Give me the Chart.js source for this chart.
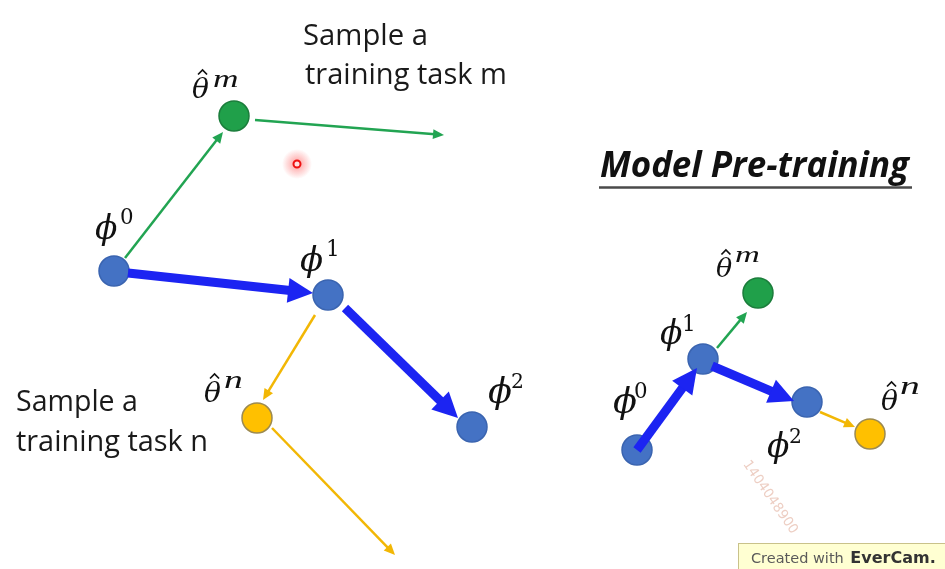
<!DOCTYPE html>
<html>
<head>
<meta charset="utf-8">
<script src="https://cdn.jsdelivr.net/npm/chart.js@4.4.1/dist/chart.umd.min.js"></script>
<style>
  html, body { margin: 0; padding: 0; background: #fff; overflow: hidden; }
  #wrap { width: 945px; height: 569px; position: relative; }
</style>
</head>
<body>
<div id="wrap"><canvas id="diagram"></canvas></div>
<script>
// nodes of the two pictures (picture pixels, y grows downward)
const nodeNames = ['phi0', 'thetaM', 'phi1', 'phi2', 'thetaN', 'phi0 small', 'phi1 small', 'thetaM small', 'phi2 small', 'thetaN small'];
const nodeX = [114, 234, 328, 472, 257, 637, 703, 758, 807, 870];
const nodeY = [271, 116, 295, 427, 418, 450, 359, 293, 402, 434];
const nodeGroup = ['meta', 'taskM', 'meta', 'meta', 'taskN', 'meta', 'meta', 'taskM', 'meta', 'taskN'];

// update arrows: start and tip
const arrowFromX = [125, 255, 128, 345, 315, 272, 637, 717, 712, 820];
const arrowFromY = [258, 120, 273, 308, 315, 428, 450, 348, 366, 412];
const arrowToX = [223, 444, 313, 458, 263, 395, 697, 747, 794, 855];
const arrowToY = [132, 135, 293, 418, 400, 555, 368, 312, 401, 427];
const arrowGroup = ['taskM', 'taskM', 'meta', 'meta', 'taskN', 'taskN', 'meta', 'taskM', 'meta', 'taskN'];

// laser pointer dot
const pointerX = [297];
const pointerY = [164];

const fills = { meta: '#4472c4', taskM: '#20a04a', taskN: '#ffc000' };
const borders = { meta: '#3a64b0', taskM: '#1b7d3b', taskN: '#9c8a50' };
const arrowColors = { meta: '#1c24f2', taskM: '#22a452', taskN: '#f2b705' };
const arrowStyle = {
    meta: { width: 9, head: 25, half: 12.5 },
    taskM: { width: 2.5, head: 11, half: 5 },
    taskN: { width: 2.5, head: 11, half: 5 }
};

// math labels: base glyph box and superscript box (w = stretch to width)
const mathLabels = [
    { base: 'ϕ', sup: '0', x: 95, top: 213, h: 32, sx: 121, stop: 208, sh: 16 },
    { base: 'θ', sup: 'm', x: 192, top: 77, h: 22, w: 17, sx: 213, stop: 75, sh: 12, sw: 24, hat: true },
    { base: 'ϕ', sup: '1', x: 300, top: 245, h: 33, sx: 328, stop: 239, sh: 16 },
    { base: 'θ', sup: 'n', x: 204, top: 381, h: 22, w: 17, sx: 224, stop: 376, sh: 12, sw: 18, hat: true },
    { base: 'ϕ', sup: '2', x: 488, top: 376, h: 34, sx: 512, stop: 373, sh: 15 },
    { base: 'ϕ', sup: '0', x: 613, top: 386, h: 34, sx: 635, stop: 382, sh: 16 },
    { base: 'ϕ', sup: '1', x: 660, top: 318, h: 32, sx: 684, stop: 314, sh: 16 },
    { base: 'θ', sup: 'm', x: 716, top: 257, h: 21, w: 16, sx: 735, stop: 251, sh: 11, sw: 24, hat: true },
    { base: 'ϕ', sup: '2', x: 767, top: 431, h: 32, sx: 790, stop: 428, sh: 15 },
    { base: 'θ', sup: 'n', x: 881, top: 389, h: 22, w: 17, sx: 900, stop: 382, sh: 12, sw: 19, hat: true }
];

const plainTexts = [
    { text: 'Sample a', x: 303, y: 45, w: 125 },
    { text: 'training task m', x: 305, y: 84, w: 202 },
    { text: 'Sample a', x: 16, y: 411, w: 122 },
    { text: 'training task n', x: 16, y: 451, w: 192 }
];

const SERIF = "'DejaVu Serif'";
const SERIF_LIGHT = "'Liberation Serif'";
const SANS = "'Open Sans'";

function glyphAt(ctx, text, style, family, left, top, h, w) {
    ctx.font = style + ' 100px ' + family;
    let m = ctx.measureText(text);
    const size = 100 * h / (m.actualBoundingBoxAscent + m.actualBoundingBoxDescent);
    ctx.font = style + ' ' + size.toFixed(2) + 'px ' + family;
    m = ctx.measureText(text);
    const natural = m.actualBoundingBoxLeft + m.actualBoundingBoxRight;
    const sx = w ? w / natural : 1;
    ctx.save();
    ctx.translate(left, top + m.actualBoundingBoxAscent);
    ctx.scale(sx, 1);
    ctx.fillText(text, m.actualBoundingBoxLeft, 0);
    ctx.restore();
    return natural * sx;
}

function textFit(ctx, text, style, family, x, y, w) {
    ctx.font = style + ' 100px ' + family;
    const size = 100 * w / ctx.measureText(text).width;
    ctx.font = style + ' ' + size.toFixed(2) + 'px ' + family;
    ctx.fillText(text, x, y);
    return size;
}

const diagramPlugin = {
    id: 'diagram',
    beforeDatasetsDraw(chart) {
        const { ctx, scales: { x, y } } = chart;
        // soft red glow round the pointer
        pointerX.forEach((px, i) => {
            const cx = x.getPixelForValue(px), cy = y.getPixelForValue(pointerY[i]);
            const g = ctx.createRadialGradient(cx, cy, 2, cx, cy, 15);
            g.addColorStop(0, 'rgba(255,60,60,0.45)');
            g.addColorStop(1, 'rgba(255,60,60,0)');
            ctx.save();
            ctx.fillStyle = g;
            ctx.beginPath();
            ctx.arc(cx, cy, 15, 0, Math.PI * 2);
            ctx.fill();
            ctx.restore();
        });
    },
    afterDatasetsDraw(chart) {
        const { ctx, scales: { x, y } } = chart;
        ctx.save();

        // arrows
        arrowFromX.forEach((fx, i) => {
            const x0 = x.getPixelForValue(fx), y0 = y.getPixelForValue(arrowFromY[i]);
            const x1 = x.getPixelForValue(arrowToX[i]), y1 = y.getPixelForValue(arrowToY[i]);
            const st = arrowStyle[arrowGroup[i]];
            const ang = Math.atan2(y1 - y0, x1 - x0);
            const bx = x1 - Math.cos(ang) * st.head, by = y1 - Math.sin(ang) * st.head;
            ctx.strokeStyle = ctx.fillStyle = arrowColors[arrowGroup[i]];
            ctx.lineWidth = st.width;
            ctx.lineCap = 'butt';
            ctx.beginPath();
            ctx.moveTo(x0, y0);
            ctx.lineTo(bx + Math.cos(ang) * 2, by + Math.sin(ang) * 2);
            ctx.stroke();
            ctx.beginPath();
            ctx.moveTo(x1, y1);
            ctx.lineTo(bx + Math.sin(ang) * st.half, by - Math.cos(ang) * st.half);
            ctx.lineTo(bx - Math.sin(ang) * st.half, by + Math.cos(ang) * st.half);
            ctx.closePath();
            ctx.fill();
        });

        // math labels
        ctx.fillStyle = '#111';
        ctx.textAlign = 'left';
        ctx.textBaseline = 'alphabetic';
        mathLabels.forEach(l => {
            const w = glyphAt(ctx, l.base, 'italic', SERIF, l.x, l.top, l.h, l.w);
            if (/[0-9]/.test(l.sup)) {
                glyphAt(ctx, l.sup, 'normal', SERIF, l.sx, l.stop, l.sh);
            } else {
                glyphAt(ctx, l.sup, 'italic', SERIF_LIGHT, l.sx, l.stop, l.sh, l.sw);
            }
            if (l.hat) {
                const hx = l.x + w * 0.62, hy = l.top - 7;
                ctx.strokeStyle = '#111';
                ctx.lineWidth = 1.7;
                ctx.lineJoin = 'miter';
                ctx.beginPath();
                ctx.moveTo(hx - 4.5, hy + 4.5);
                ctx.lineTo(hx, hy);
                ctx.lineTo(hx + 4.5, hy + 4.5);
                ctx.stroke();
            }
        });

        // captions
        ctx.fillStyle = '#1a1a1a';
        plainTexts.forEach(t => textFit(ctx, t.text, 'normal', SANS, t.x, t.y, t.w));

        // title with underline
        ctx.fillStyle = '#111';
        textFit(ctx, 'Model Pre-training', 'italic bold', SANS, 600, 177, 309);
        ctx.strokeStyle = '#4a4a4a';
        ctx.lineWidth = 2.5;
        ctx.beginPath();
        ctx.moveTo(599, 187.5);
        ctx.lineTo(912, 187.5);
        ctx.stroke();

        // recording watermark
        ctx.save();
        ctx.translate(747, 461);
        ctx.rotate(Math.atan2(72, 50));
        ctx.fillStyle = 'rgba(230,185,170,0.7)';
        ctx.textBaseline = 'top';
        textFit(ctx, '1404048900', 'normal', "'DejaVu Sans'", 0, -5, 86);
        ctx.restore();

        // EverCam badge
        ctx.fillStyle = '#ffffd2';
        ctx.fillRect(738, 543, 210, 30);
        ctx.strokeStyle = '#c9c28a';
        ctx.lineWidth = 1;
        ctx.strokeRect(738.5, 543.5, 210, 30);
        ctx.font = "14.5px 'DejaVu Sans'";
        ctx.fillStyle = '#5a5a5a';
        ctx.fillText('Created with', 751, 563);
        const cw = ctx.measureText('Created with ').width;
        ctx.font = "bold 16px 'DejaVu Sans'";
        ctx.fillStyle = '#333';
        ctx.fillText('EverCam.', 751 + cw + 2, 563);

        ctx.restore();
    }
};

new Chart(document.getElementById('diagram'), {
    type: 'scatter',
    data: {
        datasets: [
            {
                label: 'nodes',
                data: nodeX.map((v, i) => ({ x: v, y: nodeY[i], name: nodeNames[i] })),
                pointRadius: 15,
                pointHoverRadius: 15,
                pointBackgroundColor: nodeGroup.map(g => fills[g]),
                pointBorderColor: nodeGroup.map(g => borders[g]),
                pointBorderWidth: 1.5
            },
            {
                label: 'pointer',
                data: pointerX.map((v, i) => ({ x: v, y: pointerY[i] })),
                pointRadius: 3.5,
                pointBackgroundColor: '#ffe0e0',
                pointBorderColor: '#ee1111',
                pointBorderWidth: 2
            }
        ]
    },
    options: {
        responsive: true,
        maintainAspectRatio: false,
        animation: false,
        events: [],
        layout: { padding: 0, autoPadding: false },
        plugins: { legend: { display: false }, tooltip: { enabled: false } },
        scales: {
            x: { type: 'linear', min: 0, max: 945, display: false },
            y: { type: 'linear', min: 0, max: 569, reverse: true, display: false }
        }
    },
    plugins: [diagramPlugin]
});
</script>
</body>
</html>
